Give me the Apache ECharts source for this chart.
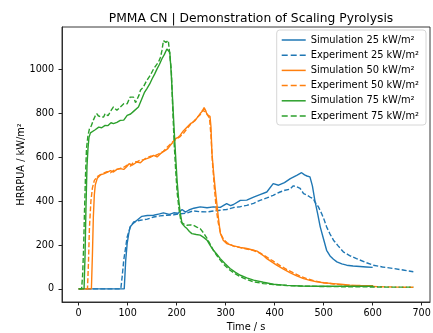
<!DOCTYPE html>
<html>
<head>
<meta charset="utf-8">
<script src="https://cdn.jsdelivr.net/npm/echarts@6/dist/echarts.min.js"></script>
<style>
  html, body { margin: 0; padding: 0; background: #fff; }
  #chart { width: 433px; height: 333px; }
</style>
</head>
<body>
<div id="chart"></div>
<script>
// Simulation 25 kW/m2
const sim25T = [0, 93, 96, 99, 102, 105, 112, 119, 129, 140, 153, 165, 173, 185, 194, 203, 211, 218, 225, 235, 248, 262, 275, 289, 302, 310, 316, 330, 343, 357, 370, 384, 397, 408, 420, 432, 445, 455, 461, 466, 472, 477, 482, 488, 493, 500, 506, 513, 520, 527, 537, 547, 560, 574, 587, 600];
const sim25V = [0, 0, 130, 207, 250, 283, 300, 313, 331, 335, 336, 342, 347, 340, 347, 345, 362, 350, 360, 368, 374, 370, 374, 372, 389, 380, 385, 404, 405, 419, 430, 442, 480, 473, 485, 503, 518, 530, 520, 515, 511, 470, 404, 340, 283, 225, 176, 150, 135, 123, 114, 108, 104, 102, 100, 98];
// Experiment 25 kW/m2
const exp25T = [0, 86, 89, 92, 96, 99, 105, 112, 126, 140, 153, 166, 180, 194, 207, 220, 234, 248, 262, 275, 289, 302, 316, 330, 343, 357, 370, 384, 397, 411, 421, 431, 438, 445, 452, 459, 466, 472, 479, 482, 489, 496, 501, 506, 513, 520, 530, 540, 553, 567, 584, 601, 620, 642, 662, 683];
const exp25V = [0, 0, 60, 131, 190, 237, 280, 305, 313, 318, 328, 333, 336, 338, 343, 345, 356, 352, 351, 355, 359, 362, 371, 375, 381, 390, 404, 415, 427, 442, 450, 455, 470, 466, 458, 435, 428, 419, 412, 397, 375, 343, 315, 283, 250, 222, 195, 169, 152, 138, 122, 108, 100, 93, 86, 78];
// Simulation 50 kW/m2
const sim50T = [0, 26, 28, 30, 32, 34, 38, 44, 51, 58, 65, 71, 78, 85, 92, 99, 103, 110, 119, 126, 133, 139, 146, 153, 160, 167, 172, 177, 182, 187, 192, 197, 202, 207, 214, 221, 228, 233, 238, 243, 248, 252, 256, 259, 262, 265, 268, 270, 272, 275, 279, 285, 289, 295, 302, 316, 330, 343, 357, 364, 371, 378, 384, 394, 404, 418, 432, 445, 459, 472, 486, 500, 520, 540, 554, 575, 601];
const sim50V = [0, 0, 150, 330, 430, 475, 505, 520, 525, 532, 540, 533, 545, 549, 545, 560, 571, 565, 579, 575, 590, 594, 600, 609, 602, 617, 625, 632, 640, 655, 668, 685, 690, 700, 722, 738, 754, 760, 769, 785, 800, 810, 827, 815, 795, 792, 787, 740, 620, 540, 450, 328, 255, 222, 207, 196, 189, 184, 176, 172, 161, 150, 138, 123, 108, 90, 73, 59, 47, 39, 32, 28, 24, 20, 17, 15, 14];
// Experiment 50 kW/m2
const exp50T = [0, 18, 20, 22, 25, 28, 32, 38, 44, 51, 58, 65, 71, 78, 85, 92, 99, 106, 112, 119, 126, 133, 139, 146, 153, 160, 167, 173, 180, 187, 194, 200, 207, 214, 221, 228, 235, 241, 248, 253, 257, 261, 264, 267, 270, 273, 277, 281, 285, 290, 296, 303, 316, 330, 343, 357, 371, 384, 398, 411, 425, 439, 452, 466, 480, 500, 520, 545, 575, 610, 645, 683];
const exp50V = [0, 0, 120, 280, 400, 460, 495, 512, 520, 528, 535, 530, 540, 545, 550, 555, 565, 560, 578, 580, 588, 590, 598, 605, 605, 612, 620, 628, 645, 660, 675, 685, 695, 710, 730, 750, 765, 780, 795, 815, 820, 805, 790, 780, 700, 580, 460, 360, 300, 250, 225, 210, 195, 188, 182, 175, 163, 145, 125, 106, 88, 72, 58, 46, 37, 28, 22, 17, 13, 10, 8, 7];
// Simulation 75 kW/m2
const sim75T = [0, 11, 13, 15, 17, 19, 21, 24, 27, 33, 41, 47, 54, 60, 66, 71, 78, 85, 92, 99, 106, 112, 116, 122, 129, 134, 139, 145, 150, 155, 160, 165, 170, 175, 180, 183, 186, 189, 192, 195, 198, 201, 204, 207, 211, 216, 221, 226, 231, 240, 248, 255, 262, 268, 275, 282, 289, 299, 309, 320, 330, 343, 357, 377, 397, 425, 452, 490, 520, 560, 601];
const sim75V = [0, 0, 150, 380, 560, 640, 690, 712, 716, 725, 738, 735, 746, 745, 758, 754, 760, 769, 770, 792, 798, 810, 815, 830, 868, 895, 913, 935, 959, 980, 1004, 1025, 1050, 1070, 1095, 1100, 1080, 980, 850, 720, 600, 490, 410, 350, 298, 285, 275, 262, 252, 248, 245, 235, 222, 200, 176, 158, 138, 115, 93, 75, 62, 50, 40, 30, 21, 16, 13, 12, 12, 12, 12];
// Experiment 75 kW/m2
const exp75T = [0, 6, 8, 10, 12, 14, 16, 19, 22, 26, 30, 34, 37, 40, 45, 51, 54, 60, 65, 71, 78, 85, 92, 99, 105, 112, 116, 123, 126, 132, 139, 146, 153, 158, 163, 167, 170, 173, 175, 178, 180, 183, 186, 189, 192, 195, 198, 201, 205, 209, 215, 221, 228, 234, 241, 248, 255, 262, 268, 275, 282, 289, 299, 309, 320, 330, 343, 357, 377, 397, 425, 452, 490, 530, 580, 630, 683];
const exp75V = [0, 0, 60, 180, 360, 520, 640, 700, 730, 745, 770, 790, 800, 790, 785, 784, 800, 790, 810, 830, 815, 830, 845, 845, 875, 875, 850, 883, 906, 921, 951, 974, 1004, 1020, 1035, 1057, 1088, 1133, 1138, 1125, 1118, 1133, 1128, 1000, 820, 660, 540, 440, 360, 305, 295, 290, 292, 290, 282, 275, 255, 230, 205, 176, 152, 131, 105, 85, 68, 55, 43, 32, 24, 20, 15, 13, 11, 10, 9, 8, 8];

const xTicks = [0, 100, 200, 300, 400, 500, 600, 700];
const yTicks = [0, 200, 400, 600, 800, 1000];

const pairs = (t, v) => t.map((x, i) => [x, v[i]]);

const blue = '#1f77b4', orange = '#ff7f0e', green = '#2ca02c';
const font = 'DejaVu Sans';
// legend samples: a solid bar and three dashes
const solidIcon = 'path://M0,0h24v1.5h-24z';
const dashIcon = 'path://M0,0h6v1.5h-6zM9,0h6v1.5h-6zM18,0h6v1.5h-6z';

function line(name, t, v, color, dashed) {
    return {
        name: name,
        type: 'line',
        data: pairs(t, v),
        symbol: 'none',
        color: color,
        lineStyle: {
            width: 1.4,
            color: color,
            type: dashed ? [5, 2.2] : 'solid'
        }
    }
}

let chart = echarts.init(document.getElementById('chart'))
chart.setOption({
    backgroundColor: '#fff',
    animation: false,
    title: {
        text: 'PMMA CN | Demonstration of Scaling Pyrolysis',
        left: 246,
        textAlign: 'center',
        top: 8,
        textStyle: { fontFamily: font, fontSize: 12.3, fontWeight: 'normal', color: '#000' }
    },
    grid: {
        left: 62,
        top: 27,
        width: 368,
        height: 275,
        outerBoundsMode: 'none',
        show: true,
        borderColor: '#222',
        borderWidth: 0.9
    },
    legend: {
        orient: 'vertical',
        right: 7,
        top: 30,
        itemWidth: 24,
        itemHeight: 1.5,
        itemGap: 3.2,
        padding: [4, 7, 3, 5],
        borderColor: '#d6d6d6',
        borderWidth: 1,
        borderRadius: 3,
        backgroundColor: 'rgba(255,255,255,0.8)',
        textStyle: { fontFamily: font, fontSize: 9.9, color: '#000', lineHeight: 12 },
        data: [
            { name: 'Simulation 25 kW/m²', icon: solidIcon },
            { name: 'Experiment 25 kW/m²', icon: dashIcon },
            { name: 'Simulation 50 kW/m²', icon: solidIcon },
            { name: 'Experiment 50 kW/m²', icon: dashIcon },
            { name: 'Simulation 75 kW/m²', icon: solidIcon },
            { name: 'Experiment 75 kW/m²', icon: dashIcon }
        ]
    },
    xAxis: {
        type: 'value',
        min: -34,
        max: 717,
        splitLine: { show: false },
        name: 'Time / s',
        nameLocation: 'middle',
        nameGap: 20,
        nameMoveOverlap: false,
        nameTextStyle: { fontFamily: font, fontSize: 9.8, color: '#000' },
        axisLine: { onZero: false, lineStyle: { color: '#222', width: 0.9 } },
        axisTick: { inside: false, length: 3.5, lineStyle: { color: '#222' }, customValues: xTicks },
        axisLabel: { fontFamily: font, fontSize: 9.6, color: '#000', margin: 6, customValues: xTicks, formatter: v => String(v) }
    },
    yAxis: {
        type: 'value',
        min: -60,
        max: 1195,
        splitLine: { show: false },
        name: 'HRRPUA / kW/m²',
        nameLocation: 'middle',
        nameGap: 36,
        nameMoveOverlap: false,
        nameTextStyle: { fontFamily: font, fontSize: 9.8, color: '#000' },
        axisLine: { show: true, onZero: false, lineStyle: { color: '#222', width: 0.9 } },
        axisTick: { show: true, inside: false, length: 3.5, lineStyle: { color: '#222' }, customValues: yTicks },
        axisLabel: { fontFamily: font, fontSize: 9.6, color: '#000', margin: 8, customValues: yTicks, formatter: v => String(v) }
    },
    series: [
        line('Simulation 25 kW/m²', sim25T, sim25V, blue, false),
        line('Experiment 25 kW/m²', exp25T, exp25V, blue, true),
        line('Simulation 50 kW/m²', sim50T, sim50V, orange, false),
        line('Experiment 50 kW/m²', exp50T, exp50V, orange, true),
        line('Simulation 75 kW/m²', sim75T, sim75V, green, false),
        line('Experiment 75 kW/m²', exp75T, exp75V, green, true)
    ]
});
</script>
</body>
</html>
